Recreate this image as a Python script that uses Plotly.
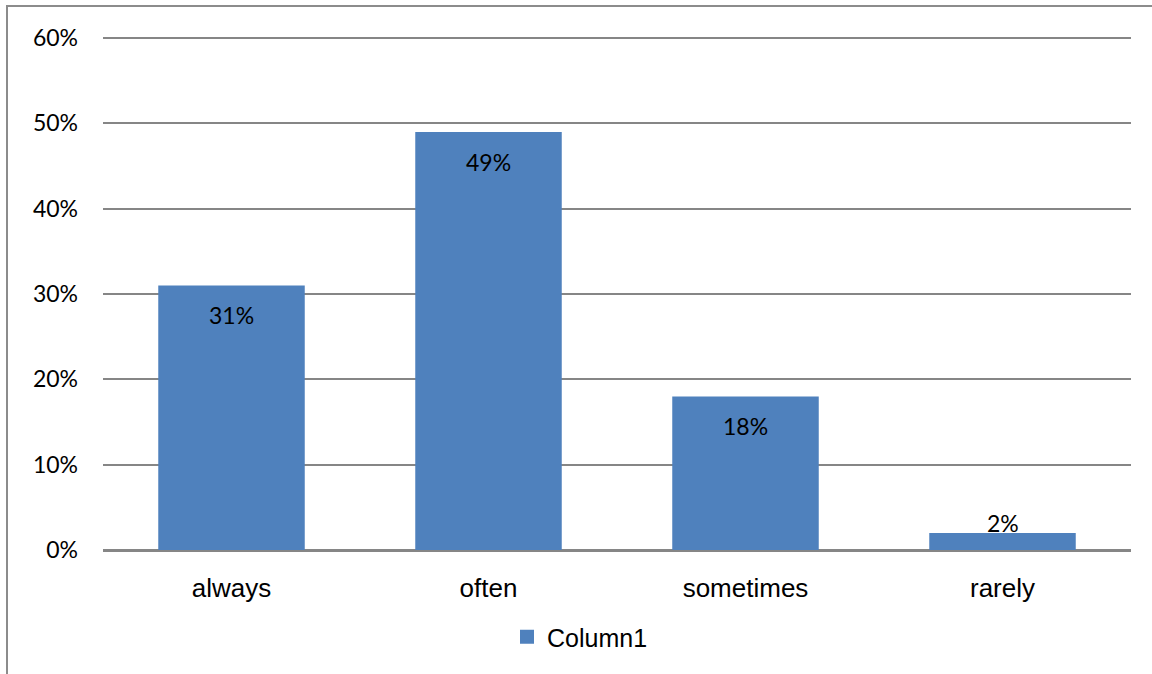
import plotly.graph_objects as go

# Survey responses: share of respondents per frequency
categories = ["always", "often", "sometimes", "rarely"]
values = [0.31, 0.49, 0.18, 0.02]
series_name = "Column1"
y_ticks = [0, 0.1, 0.2, 0.3, 0.4, 0.5, 0.6]
y_tick_labels = ["0%", "10%", "20%", "30%", "40%", "50%", "60%"]

W, H = 1152, 674
L, R, T, B = 103, 21, 37, 124
plot_w = W - L - R
plot_h = H - T - B

BAR = "#4F81BD"
GRID = "#868686"
NUM_FONT = "Lato"
TXT_FONT = "Liberation Sans"

fig = go.Figure()
fig.add_trace(go.Bar(
    x=categories, y=values, name=series_name,
    marker=dict(color=BAR, line=dict(width=0)),
    showlegend=False,
))
# Legend key: a larger square swatch in the series colour
fig.add_trace(go.Scatter(
    x=[None], y=[None], mode="markers", name=series_name,
    marker=dict(symbol="square", size=14, color=BAR),
    showlegend=True,
))

# Value labels: inside near the top, or just above for short bars
for c, v in zip(categories, values):
    fig.add_annotation(
        x=c, y=v, xref="x", yref="y",
        text=f"{round(v * 100)}%",
        showarrow=False, yanchor="middle",
        yshift=-30 if v >= 0.05 else 10,
        font=dict(family=NUM_FONT, size=23, color="#000000"),
    )

# Chart frame (right and bottom edges run past the page)
fig.add_shape(
    type="rect", xref="paper", yref="paper",
    x0=(7 - L) / plot_w, x1=1.2,
    y0=-0.5, y1=(plot_h + T - 6) / plot_h,
    line=dict(color="#8C8C8C", width=2), fillcolor="rgba(0,0,0,0)",
    layer="below",
)

fig.update_layout(
    width=W, height=H,
    margin=dict(l=L, r=R, t=T, b=B),
    paper_bgcolor="white", plot_bgcolor="white",
    bargap=0.43,
    showlegend=True,
    legend=dict(
        orientation="h", x=(507 - L) / plot_w, xanchor="left",
        y=(plot_h - (637 - T)) / plot_h, yanchor="middle",
        font=dict(family=TXT_FONT, size=25, color="#000000"),
        bgcolor="rgba(0,0,0,0)",
    ),
    xaxis=dict(
        showgrid=False, showline=True, linecolor=GRID, linewidth=1.5,
        ticks="", ticklabelstandoff=14,
        tickfont=dict(family=TXT_FONT, size=26, color="#000000"),
    ),
    yaxis=dict(
        range=[0, 0.6012], tickvals=y_ticks, ticktext=y_tick_labels,
        showgrid=True, gridcolor=GRID, gridwidth=1.5,
        zeroline=True, zerolinecolor=GRID, zerolinewidth=1.5,
        showline=False, ticks="", ticklabelstandoff=24,
        tickfont=dict(family=NUM_FONT, size=23, color="#000000"),
    ),
)

fig.write_html("out.html")
